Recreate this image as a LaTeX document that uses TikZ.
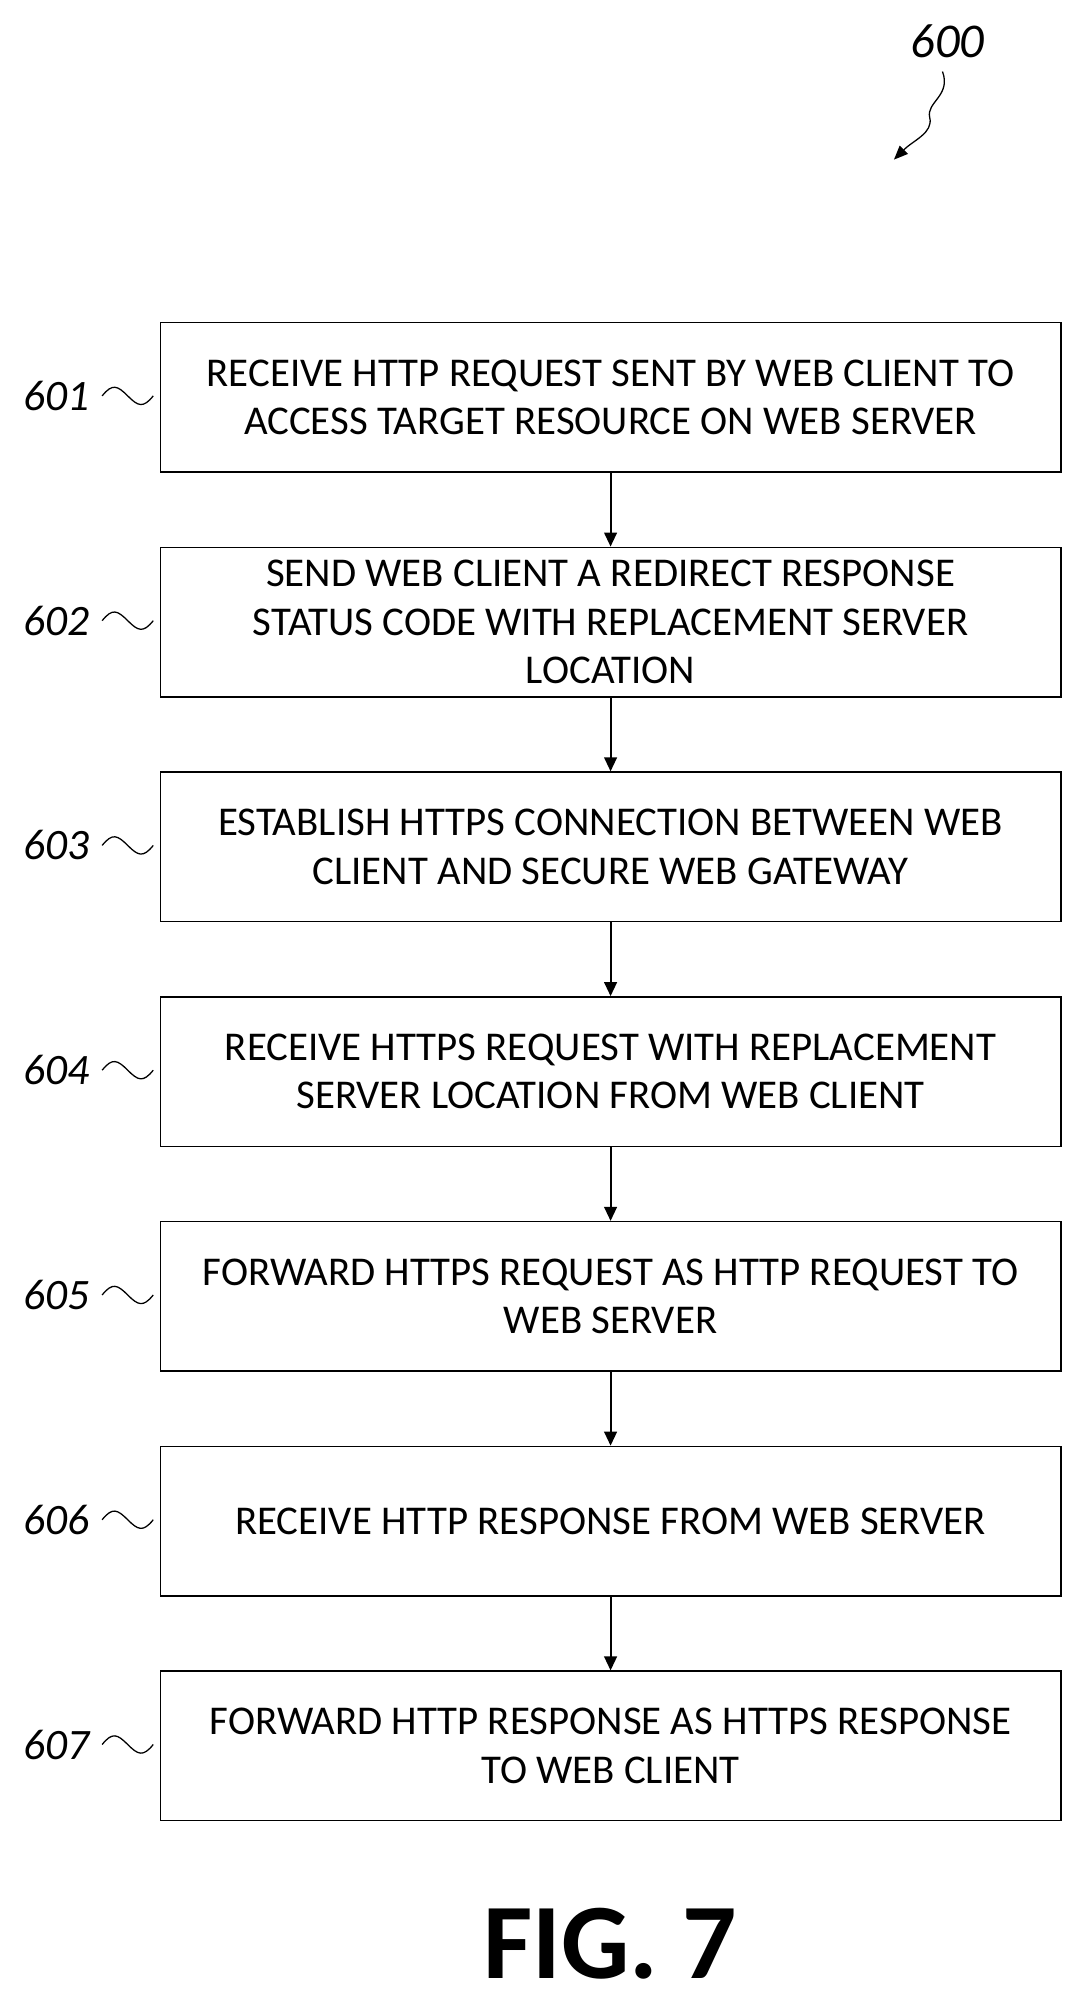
\documentclass[tikz,border=0pt]{standalone}
\usepackage{fontspec}
\setmainfont{Carlito}
\usetikzlibrary{arrows.meta}
\begin{document}
\begin{tikzpicture}[x=1pt,y=-1pt,
  box/.style={draw,line width=1.2pt,minimum width=705pt,minimum height=117pt,anchor=north west,inner sep=0pt,align=center,font=\fontsize{32}{38}\selectfont},
  lbl/.style={font=\fontsize{34}{38}\selectfont\itshape,anchor=east},
  arr/.style={line width=1.5pt,-{Triangle[length=11pt,width=10pt]}},
  sq/.style={line width=1pt}]
\useasboundingbox (0,0) rectangle (848,1570);
\def\tl#1{\draw[sq] (#1) ++(6,0) .. controls +(8,-10) and +(-8,-8) .. ++(20,0) .. controls +(8,8) and +(-8,10) .. ++(20,0);}
\node[box] (b1) at (125,252) {RECEIVE HTTP REQUEST SENT BY WEB CLIENT TO\\ACCESS TARGET RESOURCE ON WEB SERVER};
\node[box] (b2) at (125,428) {SEND WEB CLIENT A REDIRECT RESPONSE\\STATUS CODE WITH REPLACEMENT SERVER\\LOCATION};
\node[box] (b3) at (125,604) {ESTABLISH HTTPS CONNECTION BETWEEN WEB\\CLIENT AND SECURE WEB GATEWAY};
\node[box] (b4) at (125,780) {RECEIVE HTTPS REQUEST WITH REPLACEMENT\\SERVER LOCATION FROM WEB CLIENT};
\node[box] (b5) at (125,956) {FORWARD HTTPS REQUEST AS HTTP REQUEST TO\\WEB SERVER};
\node[box] (b6) at (125,1132) {RECEIVE HTTP RESPONSE FROM WEB SERVER};
\node[box] (b7) at (125,1308) {FORWARD HTTP RESPONSE AS HTTPS RESPONSE\\TO WEB CLIENT};
\foreach \a/\b in {b1/b2,b2/b3,b3/b4,b4/b5,b5/b6,b6/b7} \draw[arr] (\a.south) -- (\b.north);
\foreach \i in {1,...,7}{
  \node[lbl] (l\i) at (74,{252+176*(\i-1)+58}) {60\i};
  \tl{l\i.east}
}
\node[font=\fontsize{38}{42}\selectfont\itshape] (n600) at (742,32) {600};
\coordinate (t600) at (700,125);
\draw[line width=1pt,-{Triangle[length=11pt,width=9pt]}] (738,56) .. controls (745,75) and (725,80) .. (728,92) .. controls (731,104) and (715,110) .. (t600);
\node[font=\fontsize{84}{88}\selectfont\bfseries] (fig) at (478,1522) {FIG. 7};
\end{tikzpicture}
\end{document}
